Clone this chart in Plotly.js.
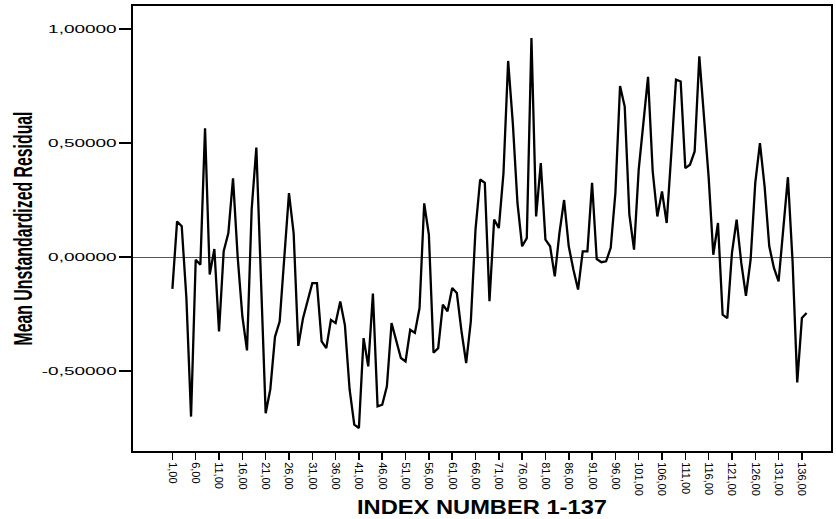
<!DOCTYPE html>
<html><head><meta charset="utf-8">
<script src="https://cdn.plot.ly/plotly-3.0.1.min.js"></script>
<style>html,body{margin:0;padding:0;background:#fff;} #chart{width:836px;height:519px;}</style>
</head><body><div id="chart"></div>
<script>
// Mean unstandardized residual per index number (1..137)
const residuals = [
  -0.14, 0.156, 0.135, -0.18, -0.70, -0.012, -0.034, 0.565, -0.077, 0.035,
  -0.326, 0.025, 0.105, 0.345, 0.0, -0.26, -0.41, 0.21, 0.48, -0.15,
  -0.685, -0.58, -0.35, -0.283, -0.01, 0.28, 0.105, -0.39, -0.27, -0.19,
  -0.115, -0.115, -0.37, -0.40, -0.276, -0.29, -0.195, -0.30, -0.58, -0.735,
  -0.75, -0.356, -0.48, -0.16, -0.655, -0.648, -0.567, -0.29, -0.363, -0.443,
  -0.458, -0.319, -0.333, -0.224, 0.235, 0.098, -0.42, -0.40, -0.209, -0.238,
  -0.136, -0.158, -0.326, -0.465, -0.282, 0.12, 0.34, 0.325, -0.194, 0.164,
  0.127, 0.368, 0.86, 0.588, 0.237, 0.047, 0.083, 0.96, 0.178, 0.412,
  0.076, 0.047, -0.085, 0.105, 0.25, 0.047, -0.056, -0.143, 0.025, 0.025,
  0.325, -0.009, -0.023, -0.019, 0.04, 0.28, 0.75, 0.66, 0.186, 0.032,
  0.383, 0.60, 0.79, 0.376, 0.178, 0.288, 0.149, 0.456, 0.778, 0.77,
  0.39, 0.405, 0.463, 0.88, 0.63, 0.35, 0.01, 0.149, -0.253, -0.268,
  0.018, 0.164, -0.026, -0.17, -0.012, 0.325, 0.50, 0.31, 0.047, -0.048,
  -0.107, 0.105, 0.35, -0.02, -0.55, -0.268, -0.246
];
const indexNumbers = residuals.map((_, i) => i + 1);

const xTickValues = [1, 6, 11, 16, 21, 26, 31, 36, 41, 46, 51, 56, 61, 66, 71, 76, 81, 86, 91, 96, 101, 106, 111, 116, 121, 126, 131, 136];
const xTickLabels = ["1,00", "6,00", "11,00", "16,00", "21,00", "26,00", "31,00", "36,00", "41,00", "46,00", "51,00", "56,00", "61,00", "66,00", "71,00", "76,00", "81,00", "86,00", "91,00", "96,00", "101,00", "106,00", "111,00", "116,00", "121,00", "126,00", "131,00", "136,00"];
const yTickValues = [-0.5, 0, 0.5, 1];
const yTickLabels = ["-0,50000", "0,00000", "0,50000", "1,00000"];

const xTitle = "INDEX NUMBER 1-137";
const yTitle = "Mean Unstandardized Residual";

const data = [{
  type: 'scatter',
  mode: 'lines',
  x: indexNumbers,
  y: residuals,
  line: {color: '#000000', width: 2.3},
  hoverinfo: 'skip'
}];

const layout = {
  width: 836, height: 519,
  margin: {l: 133, r: 5, t: 6, b: 68, pad: 0},
  paper_bgcolor: '#ffffff',
  plot_bgcolor: '#ffffff',
  showlegend: false,
  font: {family: '"Liberation Sans", Arial, sans-serif', color: '#000000'},
  xaxis: {
    range: [-7.45, 142.24],
    tickmode: 'array', tickvals: xTickValues, ticktext: xTickLabels,
    tickangle: 90,
    ticks: 'outside', ticklen: 7, tickwidth: 1.5, tickcolor: '#000',
    tickfont: {size: 11, family: '"Liberation Sans", Arial, sans-serif'},
    showgrid: false, zeroline: false,
    showline: true, linecolor: '#000', linewidth: 2, mirror: true,
    title: {text: xTitle, font: {size: 21, family: '"Liberation Sans", Arial, sans-serif', weight: 'bold'}, standoff: 4},
    automargin: false
  },
  yaxis: {
    range: [-0.851, 1.101],
    tickmode: 'array', tickvals: yTickValues, ticktext: yTickLabels,
    ticks: 'outside', ticklen: 12, tickwidth: 1.5, tickcolor: '#000',
    tickfont: {size: 11.5, family: '"Liberation Sans", Arial, sans-serif'},
    showgrid: false,
    zeroline: true, zerolinecolor: '#555555', zerolinewidth: 1,
    showline: true, linecolor: '#000', linewidth: 2, mirror: true,
    title: {text: yTitle, font: {size: 26, family: '"Liberation Sans Narrow", "Liberation Sans", Arial, sans-serif', weight: 'bold'}, standoff: 31},
    automargin: false
  }
};

Plotly.newPlot('chart', data, layout, {displayModeBar: false, staticPlot: true}).then(function (gd) {
  gd.querySelectorAll('.ytick text').forEach(function (t) {
    const w = t.getComputedTextLength();
    t.setAttribute('textLength', (w * 1.65).toFixed(1));
    t.setAttribute('lengthAdjust', 'spacingAndGlyphs');
  });
  const yt = gd.querySelector('.ytitle');
  if (yt) { yt.setAttribute('textLength', '234'); yt.setAttribute('lengthAdjust', 'spacingAndGlyphs'); }
  const xt = gd.querySelector('.xtitle');
  if (xt) { xt.setAttribute('textLength', '250'); xt.setAttribute('lengthAdjust', 'spacingAndGlyphs'); }
});
</script>
</body></html>
